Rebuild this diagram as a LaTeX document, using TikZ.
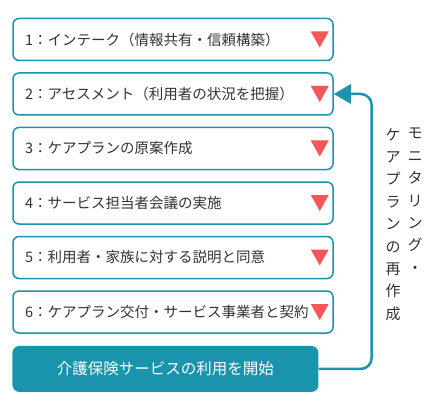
\documentclass[tikz,border=0pt]{standalone}
\usepackage{fontspec}
\setmainfont{Noto Sans CJK JP}
\usepackage{tikz}
\usetikzlibrary{positioning}
\usetikzlibrary{calc, arrows.meta}
\definecolor{careteal}{HTML}{1A93AD}
\definecolor{markred}{HTML}{F4565A}
\definecolor{inkgray}{HTML}{333333}

\begin{document}
\begin{tikzpicture}[x=1pt, y=-1pt,
    stepbox/.style={draw=careteal, line width=1.5pt, rounded corners=6pt, fill=white,
        minimum width=320pt, minimum height=42pt, text width=296pt, inner xsep=12pt,
        align=left, text=inkgray, font=\fontsize{14.5}{17}\selectfont},
    startbox/.style={fill=careteal, rounded corners=7pt, minimum width=306pt,
        minimum height=46pt, text=white, font=\fontsize{15.5}{18}\selectfont},
    loopline/.style={draw=careteal, line width=2.5pt, rounded corners=11pt},
    vlabel/.style={align=center, text=inkgray, inner sep=0pt,
        font=\fontsize{15}{22.4}\selectfont}]
                    \useasboundingbox (0,0) rectangle (433,406);
                    \node[stepbox] (s1) at (173,39.5) {1：インテーク（情報共有・信頼構築）};
                    \node[stepbox, below=11pt of s1] (s2) {2：アセスメント（利用者の状況を把握）};
                    \node[stepbox, below=11pt of s2] (s3) {3：ケアプランの原案作成};
                    \node[stepbox, below=11pt of s3] (s4) {4：サービス担当者会議の実施};
                    \node[stepbox, below=11pt of s4] (s5) {5：利用者・家族に対する説明と同意};
                    \node[stepbox, below=11pt of s5] (s6) {6：ケアプラン交付・サービス事業者と契約};
                    \node[startbox, below right=12pt and 0pt of s6.south west] (start) {介護保険サービスの利用を開始};
                    % red marks
                    \fill[markred] ($(s1.east)+(-23,-8)$) -- ++(18,0) -- ++(-9,16) -- cycle;
                    \fill[markred] ($(s2.east)+(-23,-8)$) -- ++(18,0) -- ++(-9,16) -- cycle;
                    \fill[markred] ($(s3.east)+(-23,-8)$) -- ++(18,0) -- ++(-9,16) -- cycle;
                    \fill[markred] ($(s4.east)+(-23,-8)$) -- ++(18,0) -- ++(-9,16) -- cycle;
                    \fill[markred] ($(s5.east)+(-23,-8)$) -- ++(18,0) -- ++(-9,16) -- cycle;
                    \fill[markred] ($(s6.east)+(-23,-8)$) -- ++(18,0) -- ++(-9,16) -- cycle;
                    % loop back
                    \draw[loopline, -{Triangle[length=17pt, width=19pt]}] (start.east) -- ++(53,0) |- (s2.east);
                    \node[vlabel, anchor=north] (mon) at (415,128) {モ\\ニ\\タ\\リ\\ン\\グ\\・};
                    \node[vlabel, anchor=north] (plan) at (393,128) {ケ\\ア\\プ\\ラ\\ン\\の\\再\\作\\成};
                \end{tikzpicture}
\end{document}
